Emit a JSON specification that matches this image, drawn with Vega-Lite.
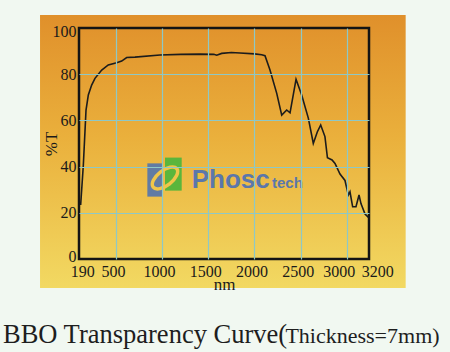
{
  "$schema": "https://vega.github.io/schema/vega-lite/v6.json",
  "width": 290,
  "height": 231,
  "autosize": "none",
  "padding": {"left": 79, "top": 28, "right": 81, "bottom": 93},
  "background": "#f1f8f1",
  "config": {
    "view": {"stroke": null},
    "axis": {
      "labelFont": "Liberation Serif",
      "labelFontSize": 16,
      "labelColor": "#1a1a1a",
      "titleFont": "Liberation Serif",
      "titleFontSize": 17,
      "titleFontWeight": "normal",
      "titleColor": "#1a1a1a",
      "ticks": false,
      "domain": false,
      "grid": true,
      "gridWidth": 1.2
    }
  },
  "layer": [
    {
      "data": {"values": [{}]},
      "mark": {
        "type": "rect",
        "fill": {
          "gradient": "linear", "x1": 0, "y1": 0, "x2": 0, "y2": 1,
          "stops": [
            {"offset": 0, "color": "#e0902b"},
            {"offset": 0.45, "color": "#eab03c"},
            {"offset": 1, "color": "#f2d962"}
          ]
        }
      },
      "encoding": {
        "x": {
          "datum": -322, "type": "quantitative",
          "scale": {"domain": [100, 3240], "nice": false, "zero": false},
          "axis": {
            "title": "nm",
            "zindex": 1,
            "grid": true,
            "format": "d",
            "values": [190, 500, 1000, 1500, 2000, 2500, 3000, 3200],
            "labelPadding": 4,
            "labelFlush": false,
            "labelOverlap": false,
            "labelOffset": {"condition": [
              {"test": "datum.value == 190", "value": -5},
              {"test": "datum.value == 3200", "value": 12},
              {"test": "datum.value == 3000", "value": -8}
            ], "value": -3},
            "gridColor": {"condition": {"test": "datum.value == 190 || datum.value == 3200", "value": "transparent"}, "value": "#8ec8c6"},
            "titlePadding": -3
          }
        },
        "x2": {"datum": 3637},
        "y": {
          "datum": 105.6, "type": "quantitative",
          "scale": {"domain": [0, 100], "nice": false},
          "axis": {
            "title": "%T",
            "zindex": 1,
            "grid": true,
            "values": [0, 20, 40, 60, 80, 100],
            "labelPadding": 3,
            "labelFlush": false,
            "labelOffset": {"condition": [
              {"test": "datum.value == 100", "value": 3},
              {"test": "datum.value == 0", "value": -3}
            ], "value": 0},
            "gridColor": {"condition": {"test": "datum.value == 0 || datum.value == 100", "value": "transparent"}, "value": "#8ec8c6"},
            "titlePadding": -8
          }
        },
        "y2": {"datum": -12.6}
      }
    },
    {
      "data": {"values": [{}]},
      "mark": {"type": "rect", "fill": "#5a77a9", "opacity": 0.95},
      "encoding": {
        "x": {"datum": 840, "type": "quantitative"},
        "x2": {"datum": 1006},
        "y": {"datum": 41.4, "type": "quantitative"},
        "y2": {"datum": 27.0}
      }
    },
    {
      "data": {"values": [{}]},
      "mark": {"type": "rect", "fill": "#52b53c", "opacity": 0.95},
      "encoding": {
        "x": {"datum": 1031, "type": "quantitative"},
        "x2": {"datum": 1212},
        "y": {"datum": 43.9, "type": "quantitative"},
        "y2": {"datum": 29.6}
      }
    },
    {
      "data": {"values": [{}]},
      "mark": {"type": "point", "shape": "M -1 0 A 1 0.5 0 1 0 1 0 A 1 0.5 0 1 0 -1 0 Z", "size": 900, "angle": -38, "filled": false, "stroke": "#efc64a", "strokeWidth": 3.5, "opacity": 1},
      "encoding": {
        "x": {"datum": 1031, "type": "quantitative"},
        "y": {"datum": 35.1, "type": "quantitative"}
      }
    },
    {
      "data": {"values": [{}]},
      "mark": {"type": "text", "text": "Phosc", "font": "Liberation Sans", "fontWeight": "bold", "fontSize": 26, "align": "left", "baseline": "alphabetic", "fill": "#5b77ab"},
      "encoding": {
        "x": {"datum": 1320, "type": "quantitative"},
        "y": {"datum": 30.6, "type": "quantitative"}
      }
    },
    {
      "data": {"values": [{}]},
      "mark": {"type": "text", "text": "tech", "font": "Liberation Sans", "fontWeight": "bold", "fontSize": 15, "align": "left", "baseline": "alphabetic", "fill": "#5b77ab"},
      "encoding": {
        "x": {"datum": 2190, "type": "quantitative"},
        "y": {"datum": 30.6, "type": "quantitative"}
      }
    },
    {
      "data": {
        "values": [
          {"nm": 118, "T": 23.4},
          {"nm": 147, "T": 40.7},
          {"nm": 176, "T": 64.5},
          {"nm": 201, "T": 71},
          {"nm": 237, "T": 75.3},
          {"nm": 273, "T": 78.2},
          {"nm": 346, "T": 81.8},
          {"nm": 417, "T": 84},
          {"nm": 508, "T": 85},
          {"nm": 562, "T": 85.7},
          {"nm": 616, "T": 87.2},
          {"nm": 706, "T": 87.4},
          {"nm": 977, "T": 88.3},
          {"nm": 1200, "T": 88.6},
          {"nm": 1410, "T": 88.7},
          {"nm": 1560, "T": 88.6},
          {"nm": 1591, "T": 88.2},
          {"nm": 1645, "T": 89},
          {"nm": 1750, "T": 89.4},
          {"nm": 1843, "T": 89.2},
          {"nm": 2000, "T": 88.8},
          {"nm": 2078, "T": 88.4},
          {"nm": 2114, "T": 88},
          {"nm": 2168, "T": 81.8},
          {"nm": 2241, "T": 71.7},
          {"nm": 2295, "T": 62.3},
          {"nm": 2349, "T": 64.5},
          {"nm": 2385, "T": 63.3},
          {"nm": 2450, "T": 77.8},
          {"nm": 2511, "T": 71},
          {"nm": 2583, "T": 61},
          {"nm": 2637, "T": 50},
          {"nm": 2680, "T": 55},
          {"nm": 2717, "T": 58},
          {"nm": 2763, "T": 53},
          {"nm": 2790, "T": 43.8},
          {"nm": 2840, "T": 42.9},
          {"nm": 2872, "T": 41.4},
          {"nm": 2926, "T": 36.8},
          {"nm": 2980, "T": 34},
          {"nm": 3016, "T": 27.7},
          {"nm": 3034, "T": 29.1},
          {"nm": 3063, "T": 22.6},
          {"nm": 3099, "T": 22.6},
          {"nm": 3132, "T": 27.7},
          {"nm": 3153, "T": 24},
          {"nm": 3197, "T": 19.5},
          {"nm": 3240, "T": 17.8}
        ]
      },
      "mark": {"type": "line", "color": "#1c1c1c", "strokeWidth": 1.6},
      "encoding": {
        "x": {"field": "nm", "type": "quantitative"},
        "y": {"field": "T", "type": "quantitative"}
      }
    },
    {
      "data": {"values": [{}]},
      "mark": {"type": "rect", "fillOpacity": 0, "stroke": "#141414", "strokeWidth": 2.5},
      "encoding": {
        "x": {"datum": 100, "type": "quantitative"},
        "x2": {"datum": 3240},
        "y": {"datum": 0, "type": "quantitative"},
        "y2": {"datum": 100}
      }
    },
    {
      "data": {"values": [{}]},
      "mark": {"type": "text", "text": "BBO Transparency Curve(", "font": "Liberation Serif", "fontSize": 26.5, "align": "left", "baseline": "alphabetic", "fill": "#1e1e1e"},
      "encoding": {
        "x": {"datum": -723, "type": "quantitative"},
        "y": {"datum": -36.4, "type": "quantitative"}
      }
    },
    {
      "data": {"values": [{}]},
      "mark": {"type": "text", "text": "Thickness=7mm)", "font": "Liberation Serif", "fontSize": 22, "align": "left", "baseline": "alphabetic", "fill": "#1e1e1e"},
      "encoding": {
        "x": {"datum": 2335, "type": "quantitative"},
        "y": {"datum": -36.4, "type": "quantitative"}
      }
    }
  ]
}
